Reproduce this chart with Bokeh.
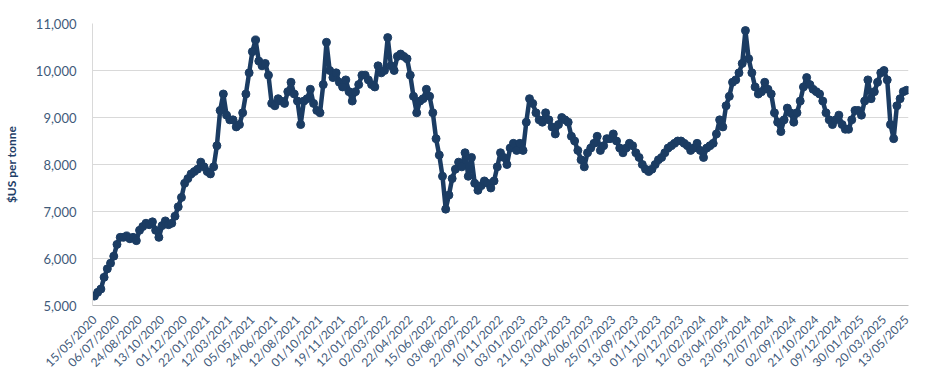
import math
from bokeh.plotting import figure
from bokeh.models import Range1d, FixedTicker, NumeralTickFormatter, ColumnDataSource
from bokeh.embed import file_html
from bokeh.resources import INLINE

# Weekly readings (every 5th trading day) of the copper price, $US per tonne
prices = [
    5200, 5280, 5350, 5600, 5780, 5900, 6050,
    6300, 6450, 6450, 6480, 6420, 6450, 6380,
    6600, 6680, 6750, 6720, 6780, 6600, 6450,
    6700, 6800, 6720, 6750, 6900, 7100, 7300,
    7600, 7700, 7800, 7850, 7900, 8050, 7950,
    7850, 7800, 7950, 8400, 9150, 9500, 9050,
    8950, 8950, 8800, 8850, 9100, 9500, 9950,
    10400, 10650, 10200, 10100, 10150, 9900, 9300,
    9250, 9400, 9350, 9300, 9550, 9750, 9500,
    9350, 8850, 9350, 9400, 9600, 9300, 9150,
    9100, 9700, 10600, 10000, 9850, 9950, 9750,
    9650, 9800, 9550, 9350, 9550, 9700, 9900,
    9900, 9800, 9700, 9650, 10100, 9950, 10000,
    10700, 10100, 10000, 10300, 10350, 10300, 10250,
    9900, 9450, 9100, 9350, 9400, 9600, 9450,
    9100, 8550, 8200, 7750, 7050, 7350, 7700,
    7900, 8050, 7950, 8250, 7750, 8150, 7600,
    7450, 7550, 7650, 7600, 7500, 7650, 7950,
    8250, 8150, 8000, 8350, 8450, 8300, 8450,
    8300, 8900, 9400, 9300, 9100, 8950, 8900,
    9100, 8950, 8800, 8650, 8850, 9000, 8950,
    8900, 8600, 8500, 8300, 8100, 7950, 8250,
    8350, 8450, 8600, 8300, 8400, 8550, 8550,
    8650, 8500, 8350, 8250, 8350, 8450, 8400,
    8250, 8150, 8000, 7900, 7850, 7900, 8000,
    8100, 8150, 8250, 8350, 8400, 8450, 8500,
    8500, 8450, 8400, 8300, 8350, 8450, 8300,
    8150, 8350, 8400, 8450, 8650, 8950, 8800,
    9250, 9450, 9750, 9800, 9950, 10150, 10850,
    10250, 9950, 9650, 9500, 9550, 9750, 9600,
    9500, 9100, 8900, 8700, 8950, 9200, 9100,
    8900, 9100, 9350, 9650, 9850, 9700, 9600,
    9550, 9500, 9350, 9100, 8950, 8850, 8950,
    9050, 8850, 8750, 8750, 8950, 9150, 9150,
    9050, 9350, 9800, 9400, 9550, 9750, 9950,
    10000, 9800, 8850, 8550, 9250, 9400, 9550, 9580,
]

tick_labels = [
    "15/05/2020", "06/07/2020", "24/08/2020", "13/10/2020", "01/12/2020",
    "22/01/2021", "12/03/2021", "05/05/2021", "24/06/2021", "12/08/2021",
    "01/10/2021", "19/11/2021", "12/01/2022", "02/03/2022", "22/04/2022",
    "15/06/2022", "03/08/2022", "22/09/2022", "10/11/2022", "03/01/2023",
    "21/02/2023", "13/04/2023", "06/06/2023", "25/07/2023", "13/09/2023",
    "01/11/2023", "20/12/2023", "12/02/2024", "03/04/2024", "23/05/2024",
    "12/07/2024", "02/09/2024", "21/10/2024", "09/12/2024", "30/01/2025",
    "20/03/2025", "13/05/2025",
]

y_ticks = [5000, 6000, 7000, 8000, 9000, 10000, 11000]

STEP = 5          # trading days between readings
TICK_EVERY = 35   # trading days between axis labels

day_index = [i * STEP for i in range(len(prices))]
tick_pos = [i * TICK_EVERY for i in range(len(tick_labels))]

src = ColumnDataSource(data=dict(x=day_index, y=prices))

FONT = "Lato"
TXT = "#3f5a7a"
NAVY = "#1b3c63"

p = figure(width=924, height=378, output_backend="svg", toolbar_location=None,
           x_range=Range1d(-3, day_index[-1] + 3), y_range=Range1d(5000, 11000),
           min_border_left=88, min_border_right=16, min_border_top=23, min_border_bottom=72)

p.outline_line_color = None
p.background_fill_color = "white"
p.border_fill_color = "white"

p.line("x", "y", source=src, line_color=NAVY, line_width=4.5)
p.scatter("x", "y", source=src, size=8, fill_color=NAVY, line_color=NAVY)

# x axis
p.xaxis.ticker = FixedTicker(ticks=tick_pos)
p.xaxis.major_label_overrides = {t: lab for t, lab in zip(tick_pos, tick_labels)}
p.xaxis.major_label_orientation = math.pi / 4
p.xaxis.major_label_text_font = FONT
p.xaxis.major_label_text_font_size = "12px"
p.xaxis.major_label_text_color = TXT
p.xaxis.major_tick_line_color = None
p.xaxis.minor_tick_line_color = None
p.xaxis.axis_line_color = "#bfbfbf"
p.xaxis.major_label_standoff = 6

# y axis
p.yaxis.ticker = FixedTicker(ticks=y_ticks)
p.yaxis.formatter = NumeralTickFormatter(format="0,0")
p.yaxis.major_label_text_font = FONT
p.yaxis.major_label_text_font_size = "13px"
p.yaxis.major_label_text_color = TXT
p.yaxis.major_tick_line_color = None
p.yaxis.minor_tick_line_color = None
p.yaxis.axis_line_color = "#d9d9d9"
p.yaxis.major_label_standoff = 10
p.yaxis.axis_label = "$US per tonne"
p.yaxis.axis_label_text_font = FONT
p.yaxis.axis_label_text_font_style = "bold"
p.yaxis.axis_label_text_font_size = "12px"
p.yaxis.axis_label_text_color = "#1f4068"
p.yaxis.axis_label_standoff = 14

p.xgrid.grid_line_color = None
p.ygrid.grid_line_color = "#d9d9d9"
p.ygrid.grid_line_width = 1

open("out.html", "w").write(file_html(p, INLINE))
